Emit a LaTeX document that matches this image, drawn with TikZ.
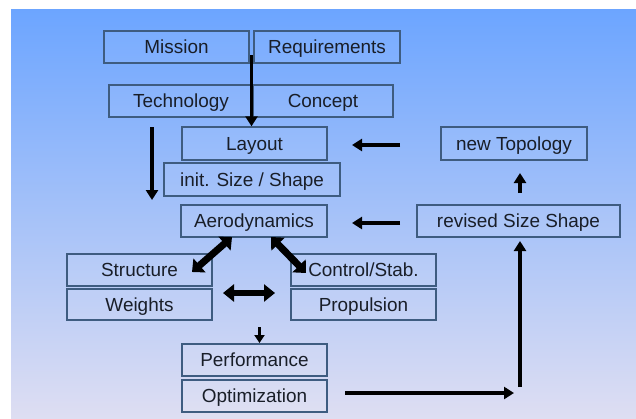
\documentclass[tikz,border=0pt]{standalone}
\usepackage{fontspec}
\setmainfont{Liberation Sans}
\usetikzlibrary{arrows.meta}
\definecolor{bgtop}{RGB}{108,165,255}
\definecolor{bgmid}{RGB}{152,198,248}
\definecolor{bgbot}{RGB}{222,222,242}
\definecolor{boxline}{RGB}{62,92,128}
\definecolor{boxfill}{RGB}{255,255,255}
\definecolor{txt}{RGB}{25,30,40}
\tikzset{
  blk/.style={draw=boxline, line width=1.4bp, fill=boxfill, fill opacity=0.06, text opacity=1,
    text=txt, minimum height=32bp, inner sep=0pt, text height=15bp, text depth=2bp,
    font=\fontsize{19}{21}\selectfont},
  arr/.style={line width=3.2bp, -{Triangle[length=10bp,width=12bp]}},
  fatarr/.style={line width=7bp, {Triangle[length=10bp,width=18bp]}-{Triangle[length=10bp,width=18bp]}},
  hdarr/.style={line width=5.5bp, {Triangle[length=11bp,width=17bp]}-{Triangle[length=11bp,width=17bp]}}
}
\begin{document}
\begin{tikzpicture}[x=1bp,y=-1bp]
\useasboundingbox (0,0) rectangle (636,418);
\fill[white] (0,0) rectangle (636,418);
\shade[top color=bgtop, middle color=bgmid, bottom color=bgbot] (11,9) rectangle (636,418);

\node[blk, minimum width=145bp] (mission) at (176.5,47) {Mission};
\node[blk, minimum width=146bp] (req) at (327,47) {Requirements};
\node[blk, minimum width=144bp] (tech) at (181,101) {Technology};
\node[blk, minimum width=140bp] (concept) at (323,101) {Concept};
\node[blk, minimum width=145bp, minimum height=33bp] (layout) at (254.5,143.5) {Layout};
\node[blk, minimum width=176bp, minimum height=33bp] (init) at (252,179.5) {init. Size / Shape};
\node[blk, minimum width=146bp] (aero) at (254,221) {Aerodynamics};
\node[blk, minimum width=145bp] (struct) at (139.5,270) {Structure};
\node[blk, minimum width=145bp, minimum height=31bp] (weights) at (139.5,304.5) {Weights};
\node[blk, minimum width=145bp] (control) at (363.5,270) {Control/Stab.};
\node[blk, minimum width=145bp, minimum height=31bp] (prop) at (363.5,304.5) {Propulsion};
\node[blk, minimum width=145bp] (perf) at (254.5,360) {Performance};
\node[blk, minimum width=145bp] (opt) at (254.5,396) {Optimization};
\node[blk, minimum width=146bp, minimum height=33bp] (topo) at (514,143.5) {new Topology};
\node[blk, minimum width=203bp] (revised) at (518.5,221) {revised Size Shape};

\coordinate (reqs) at (251.5,55);
\coordinate (lefts) at (152,127);
\coordinate (lefte) at (152,200);
\coordinate (la1) at (400,145);
\coordinate (la2) at (352,145);
\coordinate (aa1) at (400,223);
\coordinate (aa2) at (352,223);
\coordinate (ta1) at (520,193);
\coordinate (ta2) at (520,173);
\coordinate (oa1) at (345,393);
\coordinate (oa2) at (514,393);
\coordinate (ua1) at (520,387);
\coordinate (ua2) at (520,241);
\coordinate (ds1) at (232,237);
\coordinate (ds2) at (192,272);
\coordinate (dc1) at (271,237);
\coordinate (dc2) at (306,273);
\coordinate (h1) at (223,293);
\coordinate (h2) at (275,293);
\coordinate (sd1) at (259.5,327);
\coordinate (sd2) at (259.5,343);

\draw[arr] (reqs) -- (layout.north -| reqs);
\draw[arr] (lefts) -- (lefte);
\draw[arr] (la1) -- (la2);
\draw[arr] (aa1) -- (aa2);
\draw[arr] (ta1) -- (ta2);
\draw[arr] (oa1) -- (oa2);
\draw[arr] (ua1) -- (ua2);
\draw[fatarr] (ds1) -- (ds2);
\draw[fatarr] (dc1) -- (dc2);
\draw[hdarr] (h1) -- (h2);
\draw[line width=2.8bp, -{Triangle[length=8bp,width=10bp]}] (sd1) -- (sd2);
\end{tikzpicture}
\end{document}
